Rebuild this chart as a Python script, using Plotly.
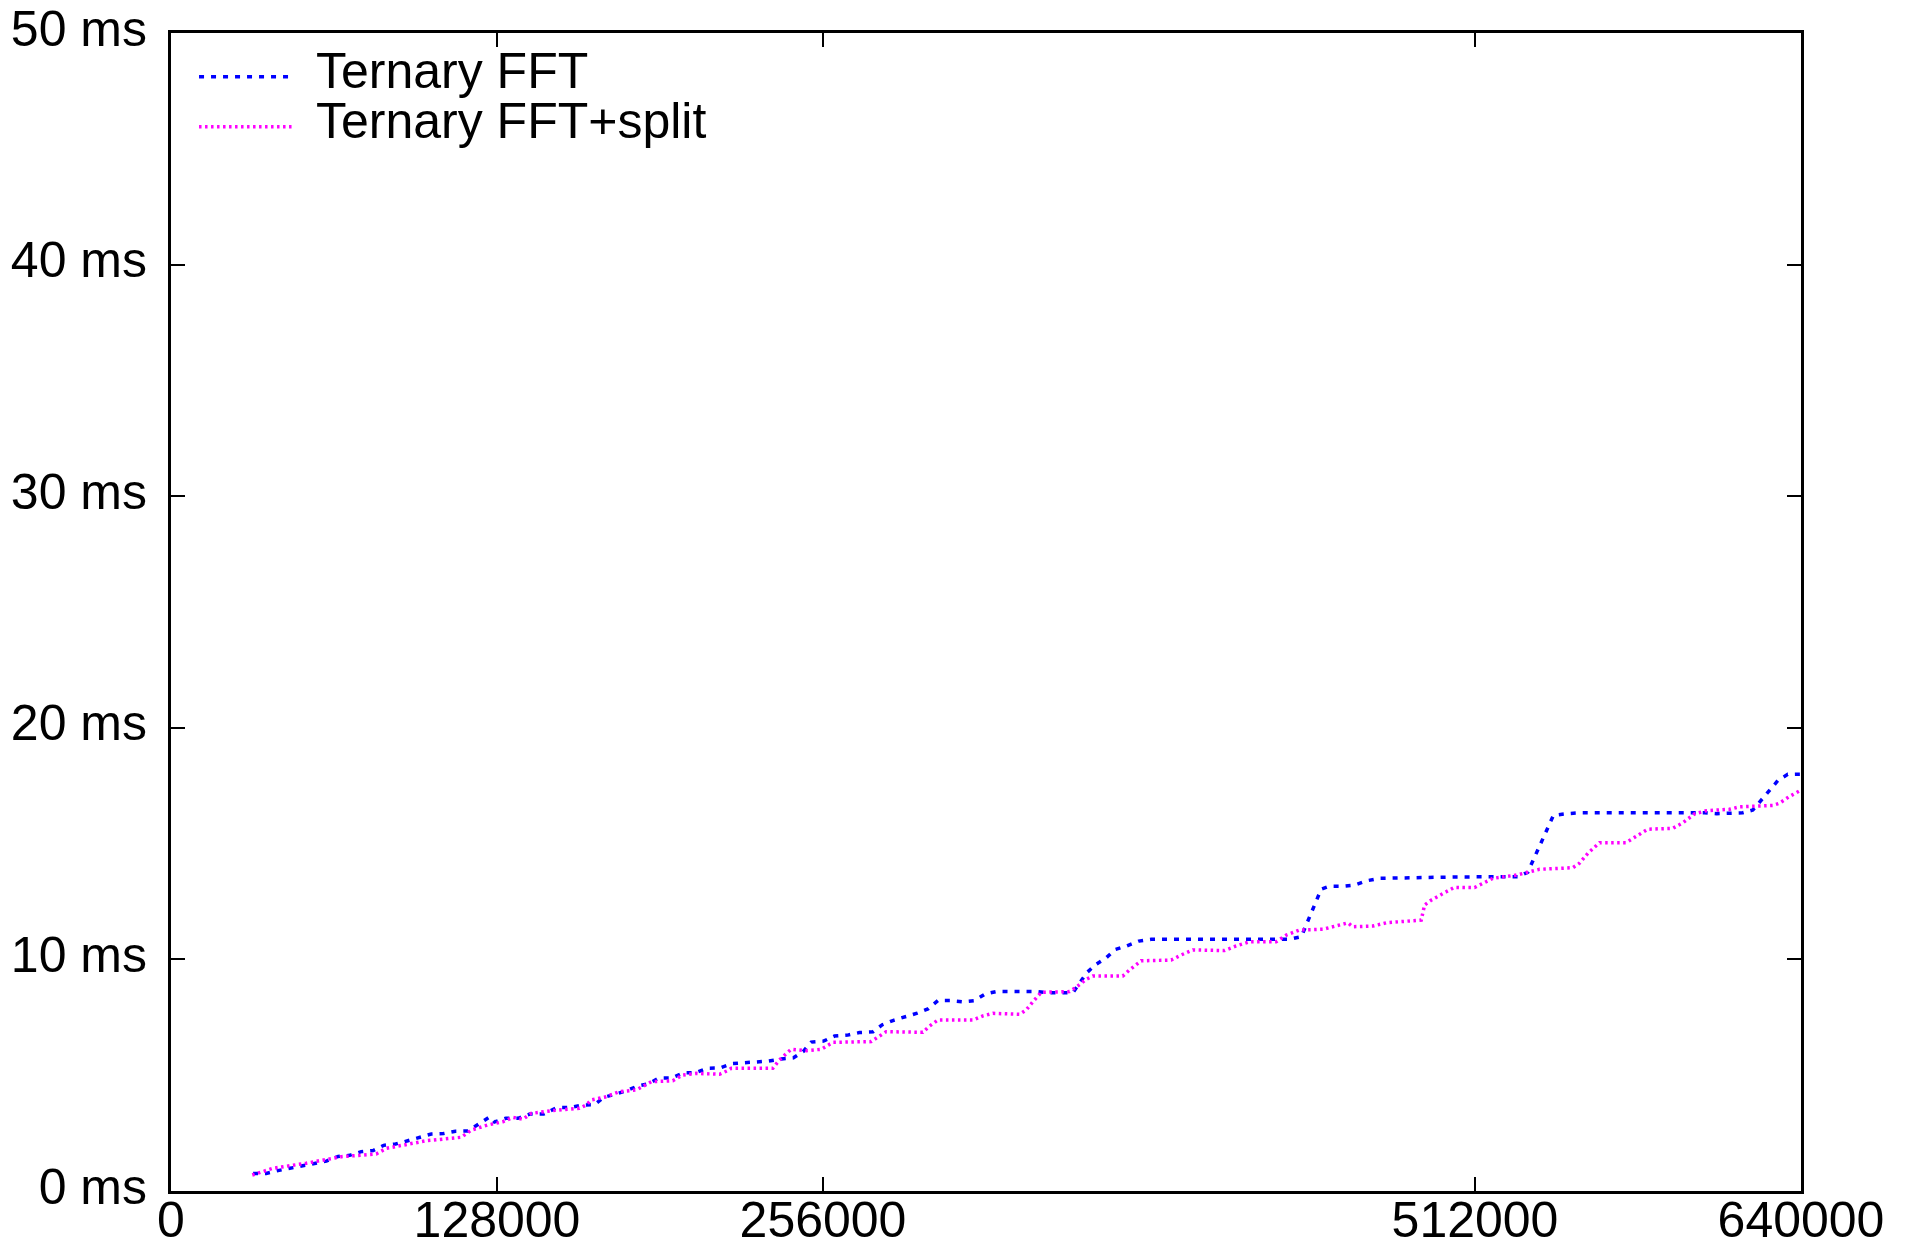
import plotly.graph_objects as go

# ---- data ----
x_tick_vals = [0, 128000, 256000, 512000, 640000]
x_tick_text = ["0", "128000", "256000", "512000", "640000"]
y_tick_vals = [0, 10, 20, 30, 40, 50]
y_tick_text = ["0 ms", "10 ms", "20 ms", "30 ms", "40 ms", "50 ms"]

series_names = ["Ternary FFT", "Ternary FFT+split"]

fft_x = [32200, 37400, 42000, 46800, 51800, 56400, 61000, 65600, 70200, 74700,
         79400, 83500, 88200, 93000, 97600, 102200, 107000, 111700, 116600, 120500,
         125100, 127000, 131500, 136200, 140900, 146300, 151500, 156500, 161400, 166300,
         170000, 174500, 178900, 183100, 187500, 191600, 196500, 201300, 206100, 210600,
         215400, 220100, 225100, 229800, 234700, 239600, 244400, 248200, 251400, 256200,
         260500, 265700, 270300, 275600, 279300, 283700, 288400, 293000, 297200, 301100,
         306000, 310900, 315500, 319700, 324400, 334500, 339700, 344300, 354100, 356700,
         359600, 363000, 367200, 370800, 375300, 380000, 384900, 439200, 443800, 451600,
         454900, 460100, 464700, 469300, 474500, 504600, 528800, 532700, 542800, 547800,
         553000, 602100, 606900, 617100, 621100, 630900, 634800, 640000]
fft_y = [0.76, 0.76, 0.88, 0.98, 1.08, 1.16, 1.29, 1.49, 1.54, 1.70,
         1.75, 1.97, 2.03, 2.17, 2.32, 2.46, 2.48, 2.58, 2.59, 2.86,
         3.20, 2.98, 3.14, 3.14, 3.32, 3.32, 3.60, 3.60, 3.71, 3.73,
         4.05, 4.18, 4.33, 4.53, 4.63, 4.88, 4.88, 5.11, 5.11, 5.30,
         5.31, 5.50, 5.55, 5.59, 5.61, 5.70, 5.75, 6.02, 6.43, 6.47,
         6.69, 6.73, 6.84, 6.87, 7.18, 7.37, 7.51, 7.68, 7.86, 8.22,
         8.22, 8.17, 8.22, 8.51, 8.62, 8.62, 8.61, 8.56, 8.56, 8.97,
         9.43, 9.77, 10.07, 10.43, 10.58, 10.79, 10.87, 10.87, 10.98, 13.03,
         13.16, 13.16, 13.21, 13.39, 13.50, 13.56, 13.57, 13.76, 16.22, 16.29,
         16.33, 16.33, 16.29, 16.33, 16.45, 17.72, 17.99, 18.00]

split_x = [31900, 40000, 53100, 66900, 80600, 84500, 100200, 114000, 117900, 124400,
           130300, 134200, 138200, 141400, 149900, 160400, 163000, 165000, 170200, 176100,
           182700, 188600, 197000, 201000, 206200, 215400, 218600, 220000, 236300, 238900,
           243500, 249400, 255300, 259900, 274900, 276900, 280800, 295200, 297600, 301100,
           314900, 318800, 322700, 333200, 335800, 338400, 341700, 352800, 355400, 359300,
           361900, 373700, 376300, 380900, 392700, 396600, 401200, 413600, 418200, 423500,
           433900, 437900, 443100, 452300, 457500, 462100, 464000, 471900, 477100, 490900,
           492200, 494800, 500700, 503900, 511800, 515100, 519000, 528200, 533400, 537300,
           550400, 553000, 556300, 560900, 571300, 575300, 579800, 589700, 593600, 598200,
           602800, 611900, 615800, 628900, 631500, 635400, 640000]
split_y = [0.69, 0.98, 1.20, 1.48, 1.60, 1.84, 2.17, 2.32, 2.63, 2.85,
           2.99, 3.18, 3.10, 3.35, 3.47, 3.57, 3.71, 3.93, 4.05, 4.29,
           4.36, 4.72, 4.76, 5.01, 5.08, 5.04, 5.20, 5.30, 5.30, 5.66,
           6.12, 6.06, 6.12, 6.42, 6.45, 6.59, 6.88, 6.85, 7.10, 7.38,
           7.38, 7.56, 7.67, 7.63, 7.82, 8.17, 8.58, 8.61, 8.80, 9.14,
           9.28, 9.28, 9.54, 9.94, 9.97, 10.19, 10.41, 10.38, 10.58, 10.76,
           10.76, 11.05, 11.27, 11.30, 11.44, 11.58, 11.41, 11.44, 11.58, 11.70,
           12.35, 12.56, 12.92, 13.11, 13.10, 13.29, 13.50, 13.64, 13.79, 13.89,
           13.96, 14.15, 14.58, 15.04, 15.04, 15.33, 15.62, 15.66, 15.90, 16.28,
           16.42, 16.48, 16.59, 16.65, 16.74, 17.03, 17.31]

# ---- styles ----
FONT = "Liberation Sans, Arial, sans-serif"
FSIZE = 50
BLUE = "#0000ff"
MAGENTA = "#ff00ff"
BLUE_DASH = "5px,7px"
MAG_DASH = "2.5px,3.5px"

fig = go.Figure()
fig.add_trace(go.Scatter(x=fft_x, y=fft_y, mode="lines", name=series_names[0],
                         line=dict(color=BLUE, width=3.5, dash=BLUE_DASH),
                         showlegend=False))
fig.add_trace(go.Scatter(x=split_x, y=split_y, mode="lines", name=series_names[1],
                         line=dict(color=MAGENTA, width=3.5, dash=MAG_DASH),
                         showlegend=False))

axis_common = dict(
    ticks="inside", ticklen=14, tickwidth=2, tickcolor="black",
    showline=True, linewidth=3, linecolor="black", mirror="ticks",
    showgrid=False, zeroline=False, automargin=False,
    tickfont=dict(family=FONT, size=FSIZE, color="black"),
)
fig.update_xaxes(range=[0, 640000], tickmode="array", tickvals=x_tick_vals,
                 ticktext=x_tick_text, ticklabelstandoff=-17, **axis_common)
fig.update_yaxes(range=[0, 50], tickmode="array", tickvals=y_tick_vals,
                 ticktext=y_tick_text, ticklabelstandoff=11, ticklabelshift=-5,
                 **axis_common)

# hand-drawn legend (long line samples like the reference)
legend_rows = [(series_names[0], BLUE, BLUE_DASH, 3.5, 0.9623, 0.9672),
               (series_names[1], MAGENTA, MAG_DASH, 3.5, 0.9191, 0.9236)]
for name, col, dash, w, ly, ty in legend_rows:
    fig.add_shape(type="line", xref="paper", yref="paper", x0=0.0172, x1=0.0755,
                  y0=ly, y1=ly, line=dict(color=col, width=w, dash=dash))
    fig.add_annotation(xref="paper", yref="paper", x=0.0877, y=ty, text=name,
                       showarrow=False, xanchor="left", yanchor="middle",
                       font=dict(family=FONT, size=FSIZE, color="black"))

fig.update_layout(
    width=1906, height=1243,
    margin=dict(l=171, r=105, t=33, b=52, pad=0),
    paper_bgcolor="white", plot_bgcolor="white",
    font=dict(family=FONT, size=FSIZE, color="black"),
)

fig.write_html("out.html", config={"displayModeBar": False},
               post_script="document.body.style.margin='0';document.body.style.overflow='hidden';")
